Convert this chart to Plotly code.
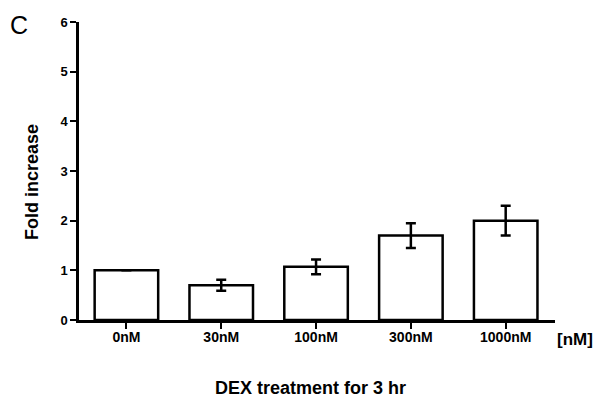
import plotly.graph_objects as go

# Fold increase after 3 hr DEX treatment
doses = ["0nM", "30nM", "100nM", "300nM", "1000nM"]
fold_increase = [1.0, 0.70, 1.07, 1.70, 2.00]
sem = [0.0, 0.11, 0.15, 0.25, 0.30]
y_ticks = [0, 1, 2, 3, 4, 5, 6]

FONT = "Liberation Sans, Arial, sans-serif"
W, H = 597, 398
L, R, T, B = 79, 42, 22, 78
pw, ph = W - L - R, H - T - B

def px_x(x):
    return (x - L) / pw

def px_y(y):
    return (H - B - y) / ph

def label(text, x, y, size, angle=0):
    return dict(text=text, xref="paper", yref="paper", x=px_x(x), y=px_y(y),
                xanchor="center", yanchor="middle", textangle=angle,
                showarrow=False, font=dict(size=size, family=FONT, color="black"))

fig = go.Figure()
fig.add_trace(go.Bar(
    x=list(range(len(doses))),
    y=fold_increase,
    width=0.67,
    marker=dict(color="white", line=dict(color="black", width=2.5)),
    error_y=dict(type="data", array=sem, visible=True, color="black",
                 thickness=2.5, width=5),
    showlegend=False,
))

fig.update_layout(
    width=W, height=H,
    margin=dict(l=L, r=R, t=T, b=B),
    plot_bgcolor="white", paper_bgcolor="white",
    font=dict(family=FONT, color="black"),
    xaxis=dict(
        range=[-0.5, 4.52],
        tickmode="array", tickvals=list(range(len(doses))), ticktext=doses,
        ticks="outside", ticklen=6, tickwidth=1.5, tickcolor="black",
        ticklabelstandoff=-4,
        showline=True, linecolor="black", linewidth=2.5,
        showgrid=False, zeroline=False,
        tickfont=dict(size=14, family=FONT, color="black", weight="bold"),
    ),
    yaxis=dict(
        range=[0, 6],
        tickmode="array", tickvals=y_ticks,
        ticks="outside", ticklen=6, tickwidth=1.5, tickcolor="black",
        showline=True, linecolor="black", linewidth=2.5,
        showgrid=False, zeroline=False,
        tickfont=dict(size=13, family=FONT, color="black", weight="bold"),
    ),
    annotations=[
        label("C", 19, 25, 25),
        label("<b>[nM]</b>", 575, 339, 17),
        label("<b>Fold increase</b>", 32, 182, 18, angle=-90),
        label("<b>DEX treatment for 3 hr</b>", 310, 388, 18),
    ],
)

fig.write_html("out.html")
